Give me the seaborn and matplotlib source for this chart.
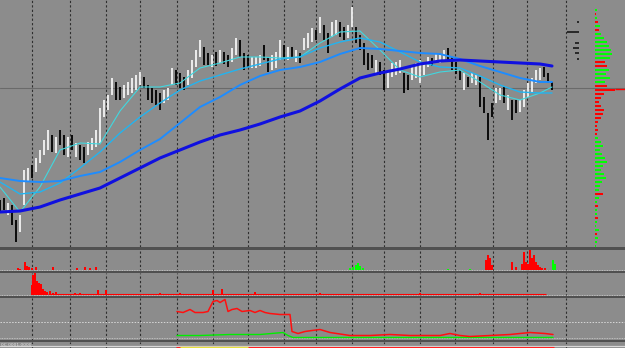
import numpy as np
import pandas as pd
import matplotlib
matplotlib.use("Agg")
import matplotlib.pyplot as plt
import seaborn as sns

sns.set_theme(style="white")
plt.rcParams['font.family'] = ['DejaVu Sans']

# ---------------- data ----------------
# bar highs / lows (price units), one bar per index
hi = [50, 52, 47, 45, 30, 35, 80, 82, 85, 92, 100, 110, 120, 115, 113, 120, 115, 113, 115, 107,
      105, 103, 108, 112, 120, 142, 150, 155, 172, 168, 163, 165, 168, 172, 175, 178, 173, 165, 162, 160,
      157, 160, 162, 182, 180, 177, 173, 180, 190, 200, 210, 203, 197, 195, 198, 200, 198, 195, 202, 212,
      210, 197, 195, 193, 193, 195, 205, 193, 195, 198, 210, 205, 203, 203, 200, 197, 212, 217, 222, 220,
      233, 225, 217, 228, 230, 228, 223, 225, 243, 223, 215, 207, 197, 195, 190, 188, 180, 178, 187, 188,
      190, 177, 175, 185, 187, 190, 188, 193, 192, 197, 195, 200, 202, 193, 188, 180, 177, 173, 177, 175,
      173, 153, 137, 147, 162, 162, 163, 155, 150, 150, 150, 160, 167, 172, 180, 182, 183, 177, 168]
lo = [38, 40, 35, 25, 8, 18, 45, 68, 72, 78, 87, 95, 100, 98, 97, 105, 95, 93, 100, 93,
      90, 87, 95, 100, 103, 107, 133, 140, 155, 150, 150, 152, 155, 157, 160, 165, 162, 150, 147, 145,
      140, 147, 150, 165, 165, 162, 160, 165, 172, 183, 193, 185, 185, 183, 184, 187, 186, 183, 188, 195,
      193, 180, 183, 182, 182, 184, 190, 178, 180, 182, 190, 192, 190, 192, 188, 187, 200, 202, 208, 210,
      217, 210, 197, 213, 215, 213, 210, 212, 223, 207, 200, 185, 180, 182, 177, 175, 160, 162, 173, 175,
      177, 157, 160, 170, 172, 167, 175, 183, 184, 187, 187, 188, 190, 180, 176, 170, 160, 163, 167, 165,
      143, 137, 110, 133, 147, 150, 147, 140, 130, 137, 138, 143, 153, 158, 167, 170, 173, 167, 160]
# bar direction: u = up (white), d = down (black)
direction = ("ddudd" "u" "uuduuuu" "duddudu" "dduuu" "uuuuddu" "uuuu" "dddddu" "u" "udddu" "uuu"
             "ddududdu" "ud" "dduuuddu" "uu" "dududuuu" "du" "dduudduu" "dd" "ddduddu" "uuu"
             "dduuuuud" "uu" "udddduduu" "d" "ddduudu" "ddu" "uuuuuddd")
last_price = 162

# moving averages sampled every 5 bars
ma_idx = [0, 5, 10, 15, 20, 25, 30, 35, 40, 45, 50, 55, 60, 65, 70, 75, 80, 85, 90, 95,
          100, 105, 110, 115, 120, 125, 130, 135, 138]
ma_slow = [38, 39, 43, 50, 56, 62, 72, 82, 92, 100, 108, 115, 120, 126, 133, 139, 149, 161, 172, 177,
           181, 186, 189, 190, 189, 188, 187, 186, 184]
ma_mid2 = [72, 69, 68, 69, 74, 78, 88, 100, 111, 127, 143, 153, 165, 174, 180, 183, 188, 196, 202, 201,
           199, 197, 196, 191, 184, 178, 172, 168, 168]
ma_mid1 = [68, 56, 58, 67, 82, 98, 117, 133, 147, 160, 169, 175, 181, 186, 191, 193, 202, 208, 212, 208,
           198, 188, 183, 182, 174, 165, 158, 157, 157]
ma_fast = [63, 38, 63, 100, 107, 106, 139, 163, 163, 167, 182, 187, 193, 193, 192, 193, 207, 218, 219, 200,
           180, 173, 178, 180, 168, 155, 150, 157, 163]

# time separators (bar index)
separators = [8, 17.5, 26.5, 35, 44.25, 53.25, 62, 71, 79, 88, 96, 105, 113.75, 123.25, 131.75, 141.5]

# volume profile (price level, size, side)
prof_price = list(range(240, 2, -4))
prof_size = [2, 1, 2, 3, 5, 4, 6, 9, 12, 14, 16, 17, 15, 10, 12, 14, 11, 15, 10, 12,
             20, 9, 6, 4, 6, 9, 8, 6, 3, 2, 3, 2, 3, 6, 8, 5, 7, 10, 12, 8,
             6, 9, 11, 7, 5, 4, 8, 4, 2, 3, 2, 2, 3, 2, 1, 4, 2, 3, 2, 1]
prof_side = list("grgrgrggggggg" "rr" "gggg" "rrrrrrrrrrrrr" "gggggggggggggg"
                 "r" "gg" "r" "gg" "r" "ggg" "r" "ggg")
# order book dashes (price, size)
book_price = [228, 218, 207, 202, 197, 191]
book_size = [2, 12, 4, 6, 4, 2]

# sub-panel 2
p2_red_idx = [4.5, 5, 6.25, 6.75, 7.25, 8, 9, 13.25, 19.25, 21.25, 22.5, 24, 121.5, 122, 122.5, 123,
              128, 129, 130.5, 131, 131.5, 132, 132.5, 133, 133.5, 134, 134.5, 135, 135.5, 136.25]
p2_red_h = [2, 1.5, 8, 4, 3, 2, 3, 3, 2, 3, 2, 3, 10, 15, 12, 5, 8, 3, 6, 18, 8, 6, 20, 12, 15, 8, 5, 3, 2, 2]
p2_grn_idx = [87.5, 88.25, 89, 89.5, 90, 90.75, 112, 117.5, 138.25, 138.75]
p2_grn_h = [2, 3, 5, 7, 4, 2, 1, 1, 10, 6]

# sub-panel 3
p3_red_idx = [8, 8.25, 8.75, 9.25, 9.75, 10.25, 10.75, 11.25, 11.75, 12.5, 13.25, 14, 18.75, 20, 24.5,
              26.5, 40, 45, 53.25, 55.5, 63.75, 80, 105, 120]
p3_red_h = [10, 20, 22, 14, 12, 11, 6, 4, 3, 4, 2, 3, 2, 2, 5, 5, 2, 2, 5, 6, 3, 2, 2, 2]
p3_grn_idx = [30.5, 70.75, 78.75, 112.5]
p3_grn_h = [1, 1, 1, 1]

# sub-panel 4
p4_red_idx = [44.25, 45.75, 47.5, 48.75, 50.75, 52, 53.25, 54.25, 55, 56.25, 57, 58, 59.25, 60.5, 62.5,
              63.75, 65, 66.25, 67.5, 70, 72.5, 73, 74.5, 76.25, 78, 80, 82.5, 87.5, 92.5, 97.5, 102.5,
              110, 112.5, 115, 117.5, 122.5, 127.5, 132.5, 136.25, 138.25]
p4_red = [28, 27, 30, 27, 27, 28, 38, 39, 37, 40, 28, 30, 31, 28, 29, 27, 29, 27, 26, 25, 25, 8, 6, 8, 9,
          10, 7, 4, 4, 5, 4, 4, 6, 4, 3, 4, 5, 7, 6, 5]
p4_grn_idx = [44.25, 50, 57.5, 65, 70.75, 72, 73.25, 87.5, 100, 112.5, 125, 138.25]
p4_grn = [4, 4, 5, 5, 7, 4, 2, 2, 2, 2, 2, 2]
p4_level = 18

# ---------------- drawing ----------------
W, H = 625, 348
BG = '#8c8c8c'
fig = plt.figure(figsize=(W / 100, H / 100), dpi=100, facecolor='#505050')


def px_axes(top, bottom, left=0, right=W, **kw):
    return fig.add_axes([left / W, 1 - bottom / H, (right - left) / W, (bottom - top) / H], **kw)


XLIM = (0, W / 4)


def style(ax):
    ax.set_facecolor(BG)
    ax.set_xlim(*XLIM)
    ax.set_xticks(separators)
    ax.set_yticks([])
    ax.tick_params(length=0, labelbottom=False, labelleft=False)
    ax.grid(axis='x', color='#2e2e2e', ls=(0, (2, 2)), lw=0.8)
    for s in ax.spines.values():
        s.set_visible(False)


# main panel
ax = px_axes(0, 247)
style(ax)
ax.set_ylim(3, 250)
ax.axhline(last_price, color='#6a6a6a', lw=0.8, zorder=1)

x = np.arange(len(hi))
cols = ['#f4f4f4' if c == 'u' else '#000000' for c in direction[:len(hi)]]
cols += ['#000000'] * (len(hi) - len(cols))
ax.vlines(x, lo, hi, colors=cols, lw=1.3, zorder=3)

ma = pd.DataFrame({'idx': ma_idx, 'slow': ma_slow, 'mid2': ma_mid2, 'mid1': ma_mid1, 'fast': ma_fast})
sns.lineplot(data=ma, x='idx', y='fast', ax=ax, color='#40d8e0', lw=0.8, zorder=4)
sns.lineplot(data=ma, x='idx', y='mid1', ax=ax, color='#22b4f0', lw=1.0, zorder=4)
sns.lineplot(data=ma, x='idx', y='mid2', ax=ax, color='#1e8cff', lw=1.4, zorder=4)
sns.lineplot(data=ma, x='idx', y='slow', ax=ax, color='#1010e0', lw=2.2, zorder=5)
ax.set_xlabel('')
ax.set_ylabel('')

# profile overlay
axp = px_axes(0, 247, left=560, right=W, sharey=ax)
axp.set_facecolor('none')
axp.set_xlim(0, 65)
axp.axis('off')
pcol = ['#00ff00' if s == 'g' else '#ff0000' for s in prof_side]
axp.barh(prof_price, prof_size, left=35, height=2.6, color=pcol, lw=0)
axp.hlines(last_price - 1, 55, 65, color='#ff0000', lw=1.0)
axp.hlines(book_price, [19 - s for s in book_size], 19, color='#202020', lw=1.3)

# panel 2
a2 = px_axes(250, 270.5)
style(a2)
a2.set_ylim(-0.5, 20.5)
a2.axhline(0, color='#d0d0d0', ls=(0, (1, 1)), lw=0.6)
a2.bar(p2_red_idx, p2_red_h, width=0.5, color='#ff0000', lw=0)
a2.bar(p2_grn_idx, p2_grn_h, width=0.5, color='#00ff00', lw=0)

# panel 3
a3 = px_axes(272.5, 295.5)
style(a3)
a3.set_ylim(-0.5, 23)
a3.axhline(0, color='#d0d0d0', ls=(0, (1, 1)), lw=0.6)
a3.hlines(0.6, 12, 136.5, color='#ff0000', lw=0.8)
a3.bar(p3_red_idx, p3_red_h, width=0.5, color='#ff0000', lw=0)
a3.bar(p3_grn_idx, p3_grn_h, width=0.5, color='#00ff00', lw=0)

# panel 4
a4 = px_axes(298, 339.5)
style(a4)
a4.set_ylim(0, 41.5)
a4.axhline(p4_level, color='#d8d8d8', ls=(0, (1.5, 1.5)), lw=0.7)
a4.axhline(2, color='#d0d0d0', ls=(0, (1, 1)), lw=0.6)
sns.lineplot(x=p4_grn_idx, y=p4_grn, ax=a4, color='#00ee00', lw=1.0)
sns.lineplot(x=p4_red_idx, y=p4_red, ax=a4, color='#ff1010', lw=1.1)

# panel 5
a5 = px_axes(342, 348)
style(a5)
a5.set_ylim(0, 6)
a5.axhline(2.2, color='#d8d8d8', lw=0.9)
a5.hlines(1, 44, 138.5, color='#ff2020', lw=0.8)
a5.hlines(1.2, 45, 62, color='#e8e040', lw=1.0)
fig.text(1 / W, 1 - 344.5 / H, "0C 0001.0000", fontsize=3.2, color='#e6e6e6', va='center', ha='left')

fig.savefig("out.png", dpi=100, facecolor=fig.get_facecolor())
